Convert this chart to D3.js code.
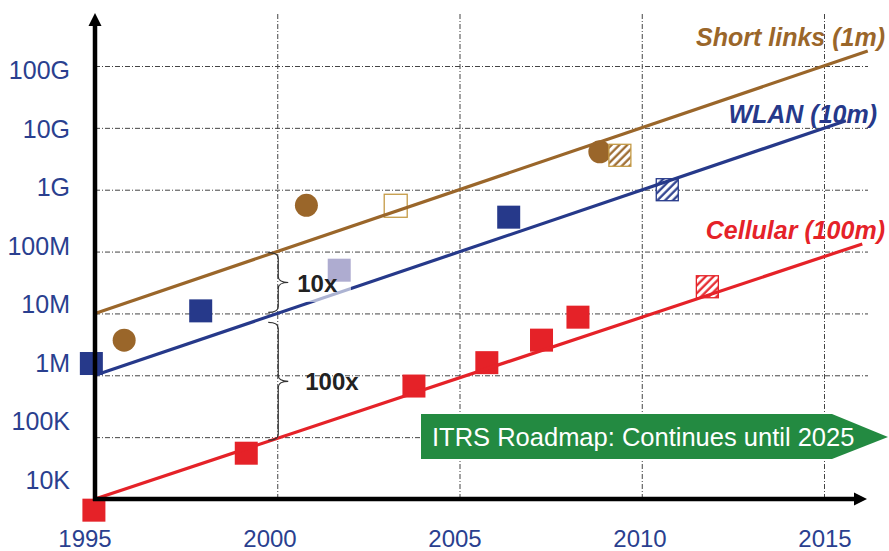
<!DOCTYPE html>
<html>
<head>
<meta charset="utf-8">
<script src="https://cdn.jsdelivr.net/npm/d3@7"></script>
<style>
  body { margin: 0; background: #fff; }
  svg { display: block; font-family: "Liberation Sans", Arial, sans-serif; }
</style>
</head>
<body>
<div id="chart"></div>
<script>
// Tick values and labels
const yearTicks = [1995, 2000, 2005, 2010, 2015];
const rateTicks = [1e4, 1e5, 1e6, 1e7, 1e8, 1e9, 1e10, 1e11];
const rateLabels = ["10K", "100K", "1M", "10M", "100M", "1G", "10G", "100G"];

// Trend lines: [year, bits per second]
const shortLinksTrend = [[1995, 1e7], [2016.2, 1.75e11]];
const wlanTrend = [[1995, 1e6], [2015.6, 1.3e10]];
const cellularTrend = [[1995, 1e4], [2016.05, 1.33e8]];

// Products: [year, rate, kind]
const shortLinksPoints = [
    [1995.8, 3.7e6, "circle"],
    [2000.8, 5.6e8, "circle"],
    [2003.25, 5.5e8, "open"],
    [2008.85, 4.1e9, "circle"],
    [2009.4, 3.6e9, "hatched"]
];
const wlanPoints = [
    [1994.9, 1.55e6, "solid"],
    [1997.9, 1.1e7, "solid"],
    [2001.7, 5e7, "light"],
    [2006.35, 3.6e8, "solid"],
    [2010.7, 1e9, "hatched"]
];
const cellularPoints = [
    [1994.97, 6.6e3, "solid"],
    [1999.15, 5.5e4, "solid"],
    [2003.75, 6.7e5, "solid"],
    [2005.75, 1.6e6, "solid"],
    [2007.25, 3.7e6, "solid"],
    [2008.25, 8.7e6, "solid"],
    [2011.8, 2.7e7, "hatched"]
];

// Gap annotations at year 2000
const gapBraces = [
    { top: 1e8, bottom: 1e7, label: "10x" },
    { top: 1e7, bottom: 1e5, label: "100x" }
];

const series = [
    { name: "Short links (1m)", color: "#9a662a", hatch: "#c49a45", trend: shortLinksTrend, points: shortLinksPoints, labelX: 885, labelY: 46 },
    { name: "WLAN (10m)", color: "#26398a", hatch: "#26398a", trend: wlanTrend, points: wlanPoints, labelX: 877, labelY: 123 },
    { name: "Cellular (100m)", color: "#e52228", hatch: "#e52228", trend: cellularTrend, points: cellularPoints, labelX: 885, labelY: 239 }
];

const W = 889, H = 551;
const axisX = 95, axisY = 499, rightX = 868, topY = 13;

const x = d3.scaleLinear().domain([1995, 2015]).range([95, 824]);
const y = d3.scaleLog().domain([1e4, 1e11]).range([499, 66]);
// tick labels in the original sit slightly off the gridlines
const xLabel = d3.scaleLinear().domain([1995, 2015]).range([85, 825]);
const yLabel = d3.scaleLog().domain([1e4, 1e11]).range([480, 70]);

const svg = d3.select("#chart").append("svg")
    .attr("width", W)
    .attr("height", H);

const defs = svg.append("defs");
series.forEach((s, i) => {
    const p = defs.append("pattern")
        .attr("id", "hatch" + i)
        .attr("patternUnits", "userSpaceOnUse")
        .attr("width", 5.5)
        .attr("height", 5.5)
        .attr("patternTransform", "rotate(45)");
    p.append("rect").attr("width", 5.5).attr("height", 5.5).attr("fill", "#fff");
    p.append("line")
        .attr("x1", 1.5).attr("y1", 0).attr("x2", 1.5).attr("y2", 5.5)
        .attr("stroke", s.color).attr("stroke-width", 2.2);
});

svg.append("rect").attr("width", W).attr("height", H).attr("fill", "#fff");

// Gridlines
const gridStyle = g => {
    g.select(".domain").remove();
    g.selectAll("line")
        .attr("stroke", "#444")
        .attr("stroke-width", 1)
        .attr("stroke-dasharray", "5,2,1,2");
};

svg.append("g")
    .attr("transform", `translate(0, ${axisY})`)
    .call(d3.axisBottom(x).tickValues(yearTicks.slice(1)).tickSize(-(axisY - topY)).tickFormat(""))
    .call(gridStyle);

svg.append("g")
    .attr("transform", `translate(${axisX}, 0)`)
    .call(d3.axisLeft(y).tickValues(rateTicks.slice(1)).tickSize(-(rightX - axisX)).tickFormat(""))
    .call(gridStyle);

// Tick labels
svg.append("g").selectAll("text")
    .data(rateTicks)
    .join("text")
    .attr("x", 70)
    .attr("y", d => yLabel(d) + 9)
    .attr("text-anchor", "end")
    .attr("font-size", 25)
    .attr("fill", "#2a3f8f")
    .text((d, i) => rateLabels[i]);

svg.append("g").selectAll("text")
    .data(yearTicks)
    .join("text")
    .attr("x", d => xLabel(d))
    .attr("y", 547)
    .attr("text-anchor", "middle")
    .attr("font-size", 24)
    .attr("fill", "#2a3f8f")
    .text(d => d);

// Markers
const sq = 23;
series.forEach((s, i) => {
    const g = svg.append("g");
    s.points.forEach(([yr, v, kind]) => {
        const cx = x(yr), cy = y(v);
        if (kind === "circle") {
            g.append("circle").attr("cx", cx).attr("cy", cy).attr("r", 11.5).attr("fill", s.color);
        } else if (kind === "open") {
            g.append("rect").attr("x", cx - sq / 2).attr("y", cy - sq / 2).attr("width", sq).attr("height", sq)
                .attr("fill", "#fff").attr("stroke", s.hatch).attr("stroke-width", 1.3);
        } else if (kind === "hatched") {
            g.append("rect").attr("x", cx - sq / 2 + 0.5).attr("y", cy - sq / 2 + 0.5).attr("width", sq - 1).attr("height", sq - 1)
                .attr("fill", `url(#hatch${i})`).attr("stroke", s.hatch).attr("stroke-width", 1.3);
        } else if (kind === "solid") {
            g.append("rect").attr("x", cx - sq / 2).attr("y", cy - sq / 2).attr("width", sq).attr("height", sq)
                .attr("fill", s.color);
        }
    });
});

// Trend lines
const line = d3.line().x(d => x(d[0])).y(d => y(d[1]));
series.forEach(s => {
    svg.append("path")
        .datum(s.trend)
        .attr("d", line)
        .attr("fill", "none")
        .attr("stroke", s.color)
        .attr("stroke-width", 3.2);
});

// Faded box behind the "10x" label, then the light WLAN marker on top
svg.append("rect")
    .attr("x", 297).attr("y", 262).attr("width", 54).attr("height", 40)
    .attr("fill", "#fff").attr("opacity", 0.62);
series.forEach(s => {
    s.points.filter(p => p[2] === "light").forEach(([yr, v]) => {
        svg.append("rect")
            .attr("x", x(yr) - sq / 2).attr("y", y(v) - sq / 2)
            .attr("width", sq).attr("height", sq)
            .attr("fill", "#aeacd0");
    });
});

// Series labels
series.forEach(s => {
    svg.append("text")
        .attr("x", s.labelX)
        .attr("y", s.labelY)
        .attr("text-anchor", "end")
        .attr("font-size", 25)
        .attr("font-weight", "bold")
        .attr("font-style", "italic")
        .attr("fill", s.color)
        .text(s.name);
});

// Braces showing the gaps
const bx = x(2000);
gapBraces.forEach((b, i) => {
    const y0 = y(b.top) + (i === 0 ? 1 : 9);
    const y1 = y(b.bottom) + (i === 0 ? -1 : 3);
    const ym = (y0 + y1) / 2;
    const x0 = bx - 9, x1 = bx + 1, x2 = bx + 11, r = 6;
    const d = `M${x0},${y0} Q${x1},${y0} ${x1},${y0 + r} L${x1},${ym - r} Q${x1},${ym} ${x2},${ym}` +
        ` Q${x1},${ym} ${x1},${ym + r} L${x1},${y1 - r} Q${x1},${y1} ${x0},${y1}`;
    svg.append("path").attr("d", d).attr("fill", "none").attr("stroke", "#333").attr("stroke-width", 1.2);
    svg.append("text")
        .attr("x", x2 + (i === 0 ? 9 : 17))
        .attr("y", ym + 9)
        .attr("font-size", 24)
        .attr("font-weight", "bold")
        .attr("fill", "#222")
        .text(b.label);
});

// Main axes with arrowheads
svg.append("line")
    .attr("x1", axisX).attr("y1", axisY + 2).attr("x2", axisX).attr("y2", topY + 10)
    .attr("stroke", "#000").attr("stroke-width", 4.5);
svg.append("path")
    .attr("d", `M${axisX},${topY} L${axisX - 6.5},${topY + 13} L${axisX + 6.5},${topY + 13} Z`)
    .attr("fill", "#000");
svg.append("line")
    .attr("x1", axisX - 2).attr("y1", axisY).attr("x2", 857).attr("y2", axisY)
    .attr("stroke", "#000").attr("stroke-width", 4.5);
svg.append("path")
    .attr("d", `M867,${axisY} L854,${axisY - 6.5} L854,${axisY + 6.5} Z`)
    .attr("fill", "#000");

// ITRS banner
const banner = svg.append("g");
banner.append("path")
    .attr("d", "M421,414 L832,414 L888,437 L832,459 L421,459 Z")
    .attr("fill", "#238a41");
banner.append("text")
    .attr("x", 432)
    .attr("y", 446)
    .attr("font-size", 25.5)
    .attr("fill", "#fff")
    .text("ITRS Roadmap: Continues until 2025");
</script>
</body>
</html>
